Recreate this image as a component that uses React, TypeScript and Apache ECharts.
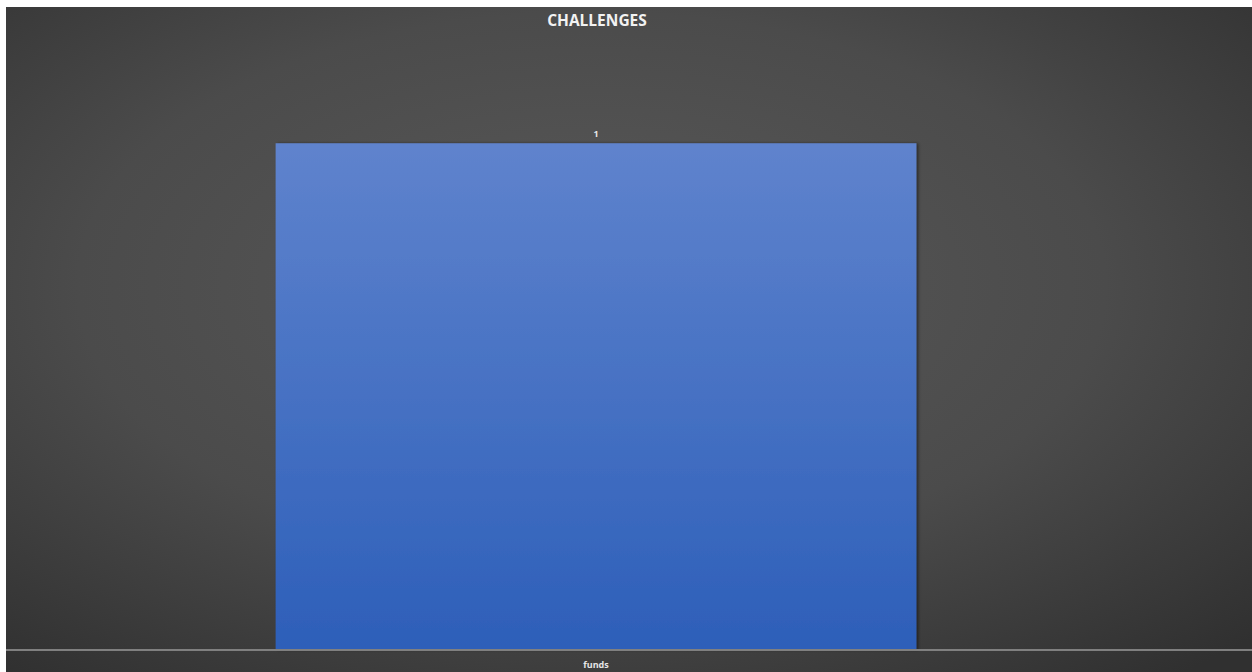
import React, { useEffect, useRef } from "react";
import * as echarts from "echarts";

const categories: string[] = ["funds"];
const values: number[] = [1];
const chartTitle = "CHALLENGES";

export default function App() {
  const ref = useRef<HTMLDivElement>(null);
  useEffect(() => {
    if (!ref.current) return;
    const chart = echarts.init(ref.current, undefined, { renderer: "svg" });
    chart.setOption({
      animation: false,
      backgroundColor: {
        type: "radial",
        x: 0.47,
        y: 0.42,
        r: 0.75,
        colorStops: [
          { offset: 0, color: "#595959" },
          { offset: 0.55, color: "#4b4b4b" },
          { offset: 1, color: "#303030" },
        ],
      },
      title: {
        text: chartTitle,
        left: 586,
        textAlign: "center",
        top: 0,
        textStyle: {
          color: "#f2f2f2",
          fontSize: 15.5,
          fontWeight: "bold",
          fontFamily: "Open Sans, Liberation Sans, sans-serif",
        },
      },
      grid: { left: 0, right: 66, top: 35, bottom: 22 },
      xAxis: {
        type: "category",
        data: categories,
        axisLine: { show: false },
        axisTick: { show: false },
        axisLabel: {
          color: "#e6e6e6",
          fontSize: 9,
          fontWeight: "bold",
          margin: 10,
          fontFamily: "Open Sans, Liberation Sans, sans-serif",
        },
      },
      yAxis: {
        type: "value",
        min: 0,
        max: 1.2,
        show: false,
        splitLine: { show: false },
      },
      graphic: [
        {
          type: "rect",
          left: 0,
          bottom: 21,
          shape: { width: 1246, height: 2 },
          style: { fill: "#808080" },
          z: 10,
        },
      ],
      series: [
        {
          type: "bar",
          data: values,
          barWidth: "54.3%",
          itemStyle: {
            color: {
              type: "linear",
              x: 0,
              y: 0,
              x2: 0,
              y2: 1,
              colorStops: [
                { offset: 0, color: "#5f83cd" },
                { offset: 1, color: "#2d5fb9" },
              ],
            },
            shadowColor: "rgba(0,0,0,0.45)",
            shadowBlur: 3,
            shadowOffsetX: 2,
          },
          label: {
            show: true,
            position: "top",
            distance: 5,
            color: "#e6e6e6",
            fontSize: 9,
            fontWeight: "bold",
            fontFamily: "Open Sans, Liberation Sans, sans-serif",
          },
        },
      ],
    });
    return () => chart.dispose();
  }, []);
  return (
    <div
      ref={ref}
      style={{ position: "absolute", left: 6, top: 7, width: 1246, height: 665 }}
    />
  );
}
